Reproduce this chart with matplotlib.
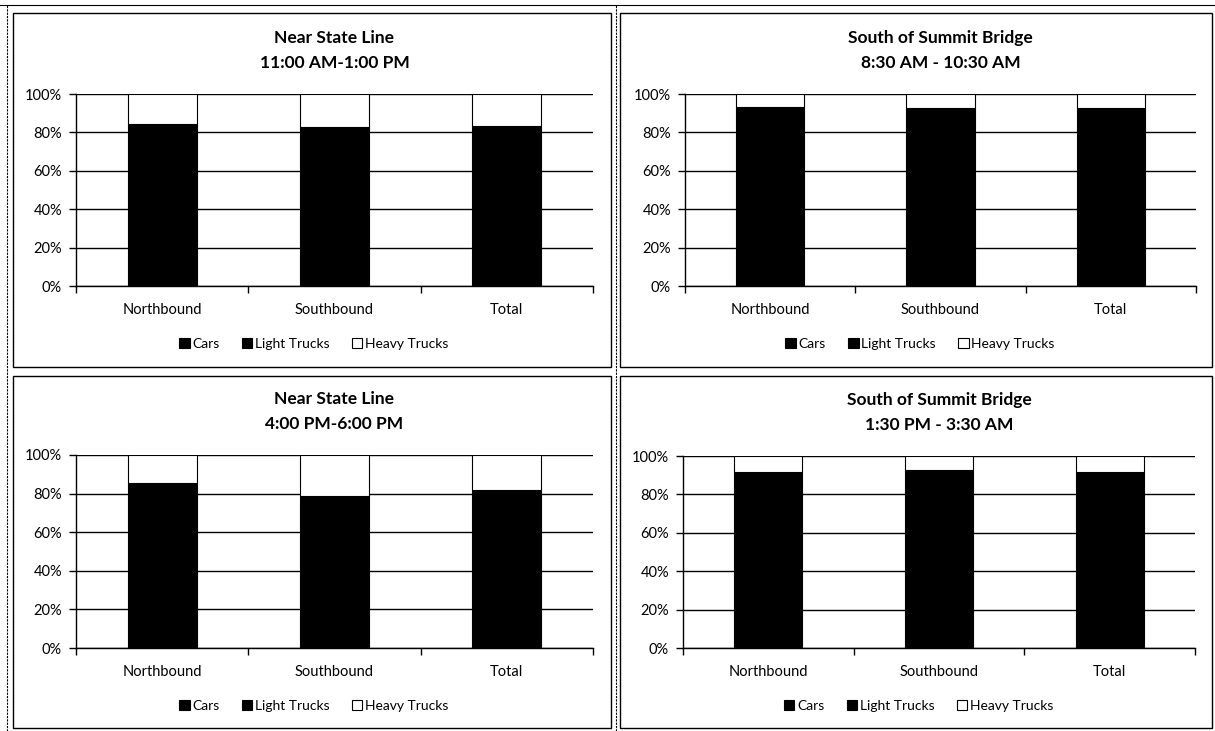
import matplotlib
matplotlib.use("Agg")
import matplotlib.pyplot as plt
from matplotlib.patches import Rectangle
from matplotlib.lines import Line2D
from matplotlib.ticker import FixedLocator

# ---- data (shares of traffic, percent) ---------------------------------
directions = ["Northbound", "Southbound", "Total"]
series = ["Cars", "Light Trucks", "Heavy Trucks"]

titles = [
    "Near State Line\n11:00 AM-1:00 PM",
    "South of Summit Bridge\n8:30 AM - 10:30 AM",
    "Near State Line\n4:00 PM-6:00 PM",
    "South of Summit Bridge\n1:30 PM - 3:30 AM",
]

# panel order: top-left, top-right, bottom-left, bottom-right
cars = [
    [81, 82, 82],
    [82, 82, 82],
    [80, 72, 76],
    [86, 88, 86],
]
light_trucks = [
    [3.5, 1.0, 1.5],
    [11.0, 10.5, 10.5],
    [5.5, 6.5, 6.0],
    [5.5, 4.5, 5.5],
]
heavy_trucks = [
    [15.5, 17.0, 16.5],
    [7.0, 7.5, 7.5],
    [14.5, 21.5, 18.0],
    [8.5, 7.5, 8.5],
]

W, H = 1215, 731
FONT = ["Lato", "DejaVu Sans"]
plt.rcParams["font.family"] = FONT

fig = plt.figure(figsize=(W / 100, H / 100), dpi=100)
fig.patch.set_facecolor("white")

# axes boxes in pixels: (left, right, top(100%), bottom(0%))
axes_px = [
    (76, 593, 94, 286),
    (685, 1196, 94, 286),
    (76, 593, 455, 648),
    (683, 1195, 456, 648),
]
# panel frames in pixels: (x0, x1, y0, y1)
frames_px = [
    (13, 611, 13, 367),
    (620, 1212, 13, 367),
    (13, 611, 376, 728),
    (620, 1212, 376, 728),
]

for i in range(4):
    l, r, t, b = axes_px[i]
    ax = fig.add_axes([l / W, 1 - b / H, (r - l) / W, (b - t) / H])
    x = range(len(directions))
    bottom_lt = cars[i]
    bottom_ht = [c + lt for c, lt in zip(cars[i], light_trucks[i])]
    h1 = ax.bar(x, cars[i], width=0.4, color="black", edgecolor="black",
                linewidth=0.8, zorder=3, label=series[0])
    h2 = ax.bar(x, light_trucks[i], width=0.4, bottom=bottom_lt,
                color="black", edgecolor="black", linewidth=0.8, zorder=3,
                label=series[1])
    h3 = ax.bar(x, heavy_trucks[i], width=0.4, bottom=bottom_ht,
                color="white", edgecolor="black", linewidth=0.8, zorder=3,
                label=series[2])

    ax.set_xlim(-0.5, 2.5)
    ax.set_ylim(0, 100)
    ax.set_yticks(range(0, 101, 20))
    ax.set_yticklabels([f"{v}%" for v in range(0, 101, 20)], fontsize=10.5)
    ax.yaxis.grid(True, color="black", linewidth=1.0, zorder=0)
    ax.set_axisbelow(True)

    ax.set_xticks(list(x))
    ax.set_xticklabels(directions, fontsize=10.5)
    ax.xaxis.set_minor_locator(FixedLocator([-0.5, 0.5, 1.5, 2.5]))
    ax.tick_params(axis="x", which="major", length=0, pad=12)
    ax.tick_params(axis="x", which="minor", length=5, width=1, direction="out")
    ax.tick_params(axis="y", length=5, width=1, pad=5)

    for s in ["top", "right"]:
        ax.spines[s].set_visible(False)
    for s in ["left", "bottom"]:
        ax.spines[s].set_linewidth(1.0)

    ax.set_title(titles[i], fontsize=12.5, fontweight="bold", pad=19,
                 linespacing=1.65)

    ax.legend(handles=[h1, h2, h3], loc="center",
              bbox_to_anchor=(0.46, -0.3), ncol=3, frameon=False,
              fontsize=10, handlelength=0.75, handleheight=0.75,
              handletextpad=0.2, columnspacing=1.6)

    x0, x1, y0, y1 = frames_px[i]
    fig.add_artist(Rectangle((x0 / W, 1 - y1 / H), (x1 - x0) / W,
                             (y1 - y0) / H, transform=fig.transFigure,
                             fill=False, edgecolor="black", linewidth=1.0))

# outer scan/table lines
fig.add_artist(Line2D([0, 1], [1 - 5 / H, 1 - 5 / H], transform=fig.transFigure,
                      color="black", linewidth=0.8))
fig.add_artist(Line2D([7 / W, 7 / W], [0, 1 - 5 / H], transform=fig.transFigure,
                      color="black", linewidth=0.8, linestyle=(0, (2, 1))))
fig.add_artist(Line2D([616 / W, 616 / W], [0, 1 - 5 / H],
                      transform=fig.transFigure, color="black", linewidth=0.8,
                      linestyle=(0, (2, 1))))

fig.savefig("out.png", dpi=100)
